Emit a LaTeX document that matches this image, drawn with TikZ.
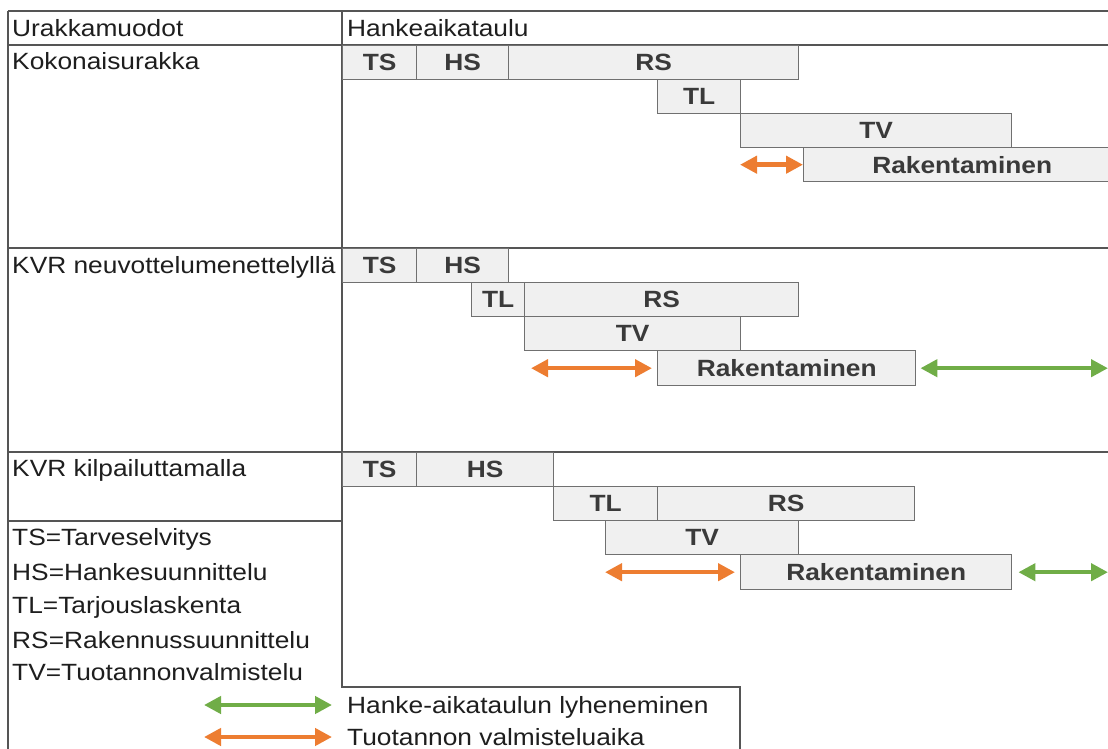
\documentclass[tikz,border=0pt]{standalone}
\usepackage{fontspec}
\setmainfont[FakeStretch=1.12]{Liberation Sans}
\usetikzlibrary{arrows.meta}
\definecolor{gridc}{HTML}{555555}
\definecolor{boxline}{HTML}{707070}
\definecolor{boxfill}{HTML}{F0F0F0}
\definecolor{lbl}{HTML}{3A3A3A}
\definecolor{txtc}{HTML}{1E1E1E}
\definecolor{orng}{HTML}{ED7D31}
\definecolor{grn}{HTML}{70AD47}
\newcommand\gbar[6]{\node[bar,minimum width={(#4-#2)*1pt},minimum height={(#5-#3)*1pt}] (#1) at (#2,#3) {#6};}
\begin{document}
\begin{tikzpicture}[x=1pt,y=-1pt,
  gridline/.style={draw=gridc,line width=1.6pt},
  bar/.style={draw=boxline,fill=boxfill,line width=1.4pt,anchor=north west,inner sep=0pt,
    font=\fontsize{23.5}{26}\selectfont\bfseries,text=lbl},
  txt/.style={anchor=base west,inner sep=0pt,font=\fontsize{23.5}{26}\selectfont,text=txtc},
  oarr/.style={draw=orng,line width=4.5pt,{Triangle[length=17pt,width=17pt]}-{Triangle[length=17pt,width=17pt]}},
  garr/.style={draw=grn,line width=4.5pt,{Triangle[length=17pt,width=17pt]}-{Triangle[length=17pt,width=17pt]}}]
\useasboundingbox (0,0) rectangle (1108,749);
\fill[white] (0,0) rectangle (1108,749);
\clip (0,0) rectangle (1108,749);
% table grid
\draw[gridline] (8,11) -- (1120,11);
\draw[gridline] (8,45) -- (1120,45);
\draw[gridline] (8,248) -- (1120,248);
\draw[gridline] (8,452) -- (1120,452);
\draw[gridline] (8,11) -- (8,760);
\draw[gridline] (342,11) -- (342,687) -- (740,687) -- (740,760);
\draw[gridline] (8,521) -- (342,521);
% left column texts
\node[txt] (uh) at (12,37) {Urakkamuodot};
\node[txt] (hh) at (347,37) {Hankeaikataulu};
\node[txt] (r1) at (12,70) {Kokonaisurakka};
\node[txt] (r2) at (12,273) {KVR neuvottelumenettelyllä};
\node[txt] (r3) at (12,476) {KVR kilpailuttamalla};
\node[txt] (l1) at (12,545) {TS=Tarveselvitys};
\node[txt] (l2) at (12,580) {HS=Hankesuunnittelu};
\node[txt] (l3) at (12,613) {TL=Tarjouslaskenta};
\node[txt] (l4) at (12,648) {RS=Rakennussuunnittelu};
\node[txt] (l5) at (12,680) {TV=Tuotannonvalmistelu};
% section 1
\gbar{ts1}{342}{45}{416}{79}{TS}
\gbar{hs1}{416}{45}{508}{79}{HS}
\gbar{rs1}{508}{45}{798}{79}{RS}
\gbar{tl1}{657}{79}{740}{113}{TL}
\gbar{tv1}{740}{113}{1011}{147}{TV}
\gbar{rk1}{803}{147}{1120}{181}{Rakentaminen}
\draw[oarr] (tv1.west |- rk1.west) -- (rk1.west);
% section 2
\gbar{ts2}{342}{248}{416}{282}{TS}
\gbar{hs2}{416}{248}{508}{282}{HS}
\gbar{tl2}{471}{282}{524}{316}{TL}
\gbar{rs2}{524}{282}{798}{316}{RS}
\gbar{tv2}{524}{316}{740}{350}{TV}
\gbar{rk2}{657}{350}{915}{385}{Rakentaminen}
\coordinate (g2) at (1108,0 |- rk2.east);
\draw[oarr,shorten <=7pt,shorten >=5pt] (tv2.west |- rk2.west) -- (rk2.west);
\draw[garr,shorten <=4pt] (rk2.east) -- (g2);
% section 3
\gbar{ts3}{342}{452}{416}{486}{TS}
\gbar{hs3}{416}{452}{553}{486}{HS}
\gbar{tl3}{553}{486}{657}{520}{TL}
\gbar{rs3}{657}{486}{914}{520}{RS}
\gbar{tv3}{605}{520}{798}{554}{TV}
\gbar{rk3}{740}{554}{1011}{589}{Rakentaminen}
\coordinate (g3) at (1108,0 |- rk3.east);
\draw[oarr,shorten >=5pt] (tv3.west |- rk3.west) -- (rk3.west);
\draw[garr,shorten <=6pt] (rk3.east) -- (g3);
% legend
\coordinate (lga) at (204,705);
\coordinate (lgb) at (332,705);
\coordinate (loa) at (204,737);
\coordinate (lob) at (332,737);
\draw[garr] (lga) -- (lgb);
\draw[oarr] (loa) -- (lob);
\node[txt] (t1) at (347,713) {Hanke-aikataulun lyheneminen};
\node[txt] (t2) at (347,745) {Tuotannon valmisteluaika};
\end{tikzpicture}
\end{document}
